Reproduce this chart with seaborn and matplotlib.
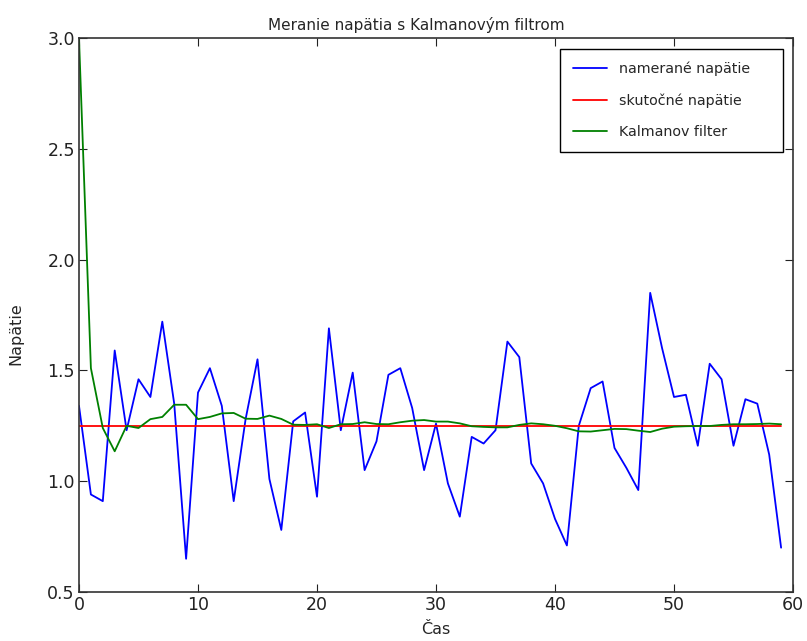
import matplotlib
matplotlib.use("Agg")
import matplotlib.pyplot as plt
import seaborn as sns
import pandas as pd
import numpy as np

cas = list(range(60))
namerane = [
    1.34, 0.94, 0.91, 1.59, 1.23, 1.46, 1.38, 1.72, 1.35, 0.65,
    1.40, 1.51, 1.34, 0.91, 1.28, 1.55, 1.01, 0.78, 1.27, 1.31,
    0.93, 1.69, 1.23, 1.49, 1.05, 1.18, 1.48, 1.51, 1.33, 1.05,
    1.26, 0.99, 0.84, 1.20, 1.17, 1.23, 1.63, 1.56, 1.08, 0.99,
    0.83, 0.71, 1.25, 1.42, 1.45, 1.15, 1.06, 0.96, 1.85, 1.60,
    1.38, 1.39, 1.16, 1.53, 1.46, 1.16, 1.37, 1.35, 1.12, 0.70,
]
skutocne = [1.25] * 60
kalman = [
    3.00, 1.51, 1.24, 1.135, 1.25, 1.24, 1.28, 1.29, 1.345, 1.345,
    1.28, 1.29, 1.306, 1.308, 1.282, 1.281, 1.296, 1.281, 1.255, 1.254,
    1.257, 1.24, 1.257, 1.258, 1.266, 1.258, 1.257, 1.266, 1.273, 1.276,
    1.269, 1.269, 1.261, 1.248, 1.245, 1.243, 1.243, 1.254, 1.261, 1.257,
    1.25, 1.239, 1.225, 1.224, 1.23, 1.236, 1.235, 1.228, 1.222, 1.237,
    1.246, 1.248, 1.249, 1.249, 1.254, 1.257, 1.257, 1.258, 1.26, 1.257,
]

labels = ["namerané napätie", "skutočné napätie", "Kalmanov filter"]
colors = ["#0000ff", "#ff0000", "#008000"]

df = pd.DataFrame({"Čas": cas, labels[0]: namerane, labels[1]: skutocne, labels[2]: kalman})
df_long = df.melt(id_vars="Čas", var_name="serie", value_name="Napätie")

sns.set_style("ticks")
plt.rcParams["font.family"] = ["DejaVu Sans"]

fig = plt.figure(figsize=(8.07, 6.41), dpi=100)
ax = fig.add_axes([79 / 807, 1 - 592 / 641, (793 - 79) / 807, (592 - 38) / 641])

sns.lineplot(data=df_long, x="Čas", y="Napätie", hue="serie", hue_order=labels,
             palette=dict(zip(labels, colors)), linewidth=1.3, ax=ax)

ax.set_xlim(0, 60)
ax.set_ylim(0.5, 3.0)
ax.set_xticks(np.arange(0, 61, 10))
ax.set_yticks(np.arange(0.5, 3.01, 0.5))
ax.set_yticklabels([f"{v:.1f}" for v in np.arange(0.5, 3.01, 0.5)])
ax.tick_params(direction="in", top=True, right=True, length=6, width=0.8,
               labelsize=12.5, colors="#222222", pad=3)
for s in ax.spines.values():
    s.set_visible(True)
    s.set_color("#333333")
    s.set_linewidth(1.2)

ax.set_title("Meranie napätia s Kalmanovým filtrom", fontsize=11, pad=6)
ax.title.set_x(0.473)
ax.set_xlabel("Čas", fontsize=11.5, labelpad=6)
ax.set_ylabel("Napätie", fontsize=11.5)
ax.yaxis.set_label_coords(-0.078, 0.467)

leg = ax.legend(loc="upper left", fontsize=10.3, frameon=True, fancybox=False,
                bbox_to_anchor=((560 - 79) / 714, 0, (783 - 560) / 714, (592 - 49) / 554),
                mode="expand", borderaxespad=0,
                handlelength=2.4, labelspacing=1.2, borderpad=0.9,
                handletextpad=0.85)
leg.get_frame().set_edgecolor("black")
leg.get_frame().set_linewidth(1.0)
leg.get_frame().set_alpha(1)

fig.savefig("out.png", dpi=100)
